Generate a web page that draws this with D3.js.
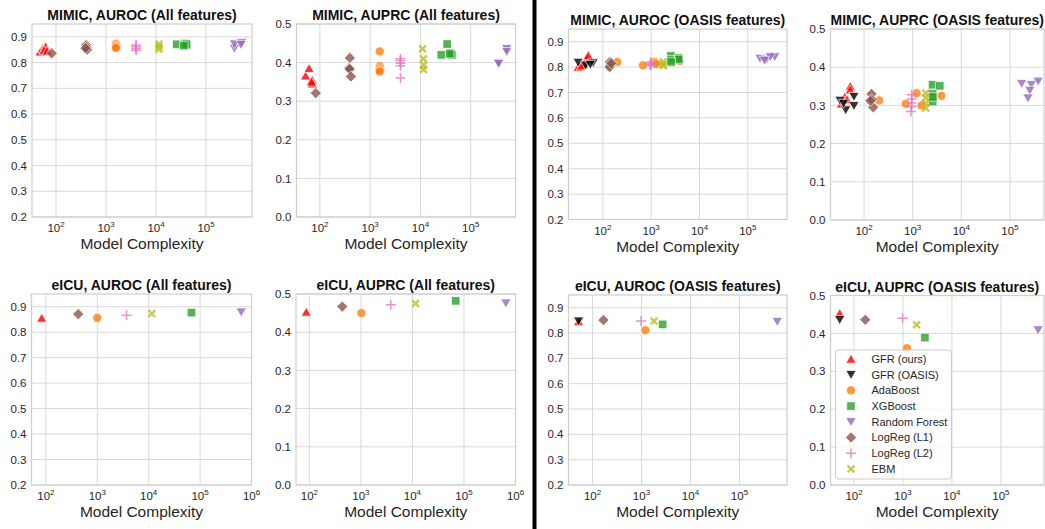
<!doctype html>
<html>
<head>
<meta charset="utf-8">
<script src="https://cdn.jsdelivr.net/npm/d3@7"></script>
<style>
  body { margin: 0; background: #fff; }
  svg { display: block; font-family: "Liberation Sans", Arial, sans-serif; }
  .grid line { stroke: #d9d9d9; stroke-width: 1; }
  .tick-label { fill: #262626; font-size: 11.5px; }
  .ptitle { font-size: 14px; font-weight: bold; fill: #111; }
  .xlabel { font-size: 15.5px; fill: #262626; }
</style>
</head>
<body>
<svg id="chart" width="1045" height="529"></svg>
<script>
// models, in legend / drawing order
var models = ["GFR (ours)", "GFR (OASIS)", "AdaBoost", "XGBoost", "Random Forest", "LogReg (L1)", "LogReg (L2)", "EBM"];
var modelColors = ["#ff0000", "#000000", "#ff7f0e", "#2ca02c", "#9467bd", "#8c564b", "#e377c2", "#bcbd22"];
var modelShapes = ["triUp", "triDown", "circle", "square", "triDown", "diamond", "plus", "cross"];

// [model complexity, score] per run
var mimicAurocAll = {
  "GFR (ours)": [[48,0.842],[55,0.855],[62,0.862],[58,0.848],[66,0.845]],
  "AdaBoost": [[1580,0.873],[1580,0.866],[1580,0.86],[1580,0.857]],
  "XGBoost": [[26000,0.871],[38000,0.874],[42000,0.868],[40000,0.872],[36000,0.866]],
  "Random Forest": [[370000,0.855],[370000,0.872],[520000,0.877],[500000,0.87]],
  "LogReg (L1)": [[82,0.836],[400,0.868],[410,0.86],[420,0.85],[390,0.856]],
  "LogReg (L2)": [[4000,0.868],[4000,0.862],[4000,0.855],[4000,0.848]],
  "EBM": [[11500,0.872],[11500,0.862],[11500,0.852]]
};
var mimicAuprcAll = {
  "GFR (ours)": [[52,0.366],[61,0.385],[70,0.355],[71,0.345],[68,0.350]],
  "AdaBoost": [[1550,0.429],[1550,0.391],[1550,0.385],[1550,0.380],[1550,0.377]],
  "XGBoost": [[34000,0.448],[26000,0.42],[40000,0.425],[42000,0.42],[38000,0.423]],
  "Random Forest": [[520000,0.436],[520000,0.428],[350000,0.40],[360000,0.397]],
  "LogReg (L1)": [[83,0.321],[395,0.412],[384,0.386],[390,0.383],[415,0.364]],
  "LogReg (L2)": [[4000,0.41],[4000,0.405],[4000,0.398],[4000,0.392],[4000,0.36]],
  "EBM": [[11000,0.436],[11500,0.41],[11500,0.393],[11500,0.382]]
};
var mimicAurocOasis = {
  "GFR (ours)": [[31,0.80],[40,0.81],[47,0.834],[50,0.846],[36,0.805]],
  "GFR (OASIS)": [[31,0.818],[44,0.807],[63,0.816],[55,0.81]],
  "AdaBoost": [[200,0.82],[680,0.807],[1200,0.82],[3900,0.824],[1250,0.812]],
  "XGBoost": [[2560,0.844],[2560,0.828],[3700,0.836],[3700,0.83],[2600,0.82]],
  "Random Forest": [[178000,0.834],[245000,0.83],[360000,0.84],[290000,0.84],[220000,0.826]],
  "LogReg (L1)": [[140,0.82],[145,0.807],[138,0.80],[150,0.815]],
  "LogReg (L2)": [[980,0.814],[1000,0.82],[1000,0.807],[950,0.81]],
  "EBM": [[1770,0.82],[1750,0.81],[1800,0.805]]
};
var mimicAuprcOasis = {
  "GFR (ours)": [[52,0.35],[52,0.341],[40,0.322],[34,0.304],[45,0.315]],
  "GFR (OASIS)": [[32,0.313],[42,0.288],[62,0.323],[62,0.299],[38,0.305]],
  "AdaBoost": [[204,0.313],[720,0.304],[1200,0.332],[1520,0.30],[3900,0.325]],
  "XGBoost": [[2570,0.354],[3600,0.351],[2570,0.33],[2570,0.31],[2600,0.322]],
  "Random Forest": [[174000,0.357],[275000,0.354],[380000,0.363],[256000,0.339],[235000,0.319]],
  "LogReg (L1)": [[142,0.33],[145,0.315],[154,0.295],[135,0.312]],
  "LogReg (L2)": [[950,0.328],[950,0.317],[950,0.306],[950,0.297],[920,0.284]],
  "EBM": [[1860,0.332],[1860,0.32],[1860,0.306],[1860,0.293]]
};
var eicuAurocAll = {
  "GFR (ours)": [[83,0.856]],
  "AdaBoost": [[1000,0.856]],
  "XGBoost": [[68000,0.877]],
  "Random Forest": [[630000,0.879]],
  "LogReg (L1)": [[425,0.871]],
  "LogReg (L2)": [[3700,0.867]],
  "EBM": [[11500,0.873]]
};
var eicuAuprcAll = {
  "GFR (ours)": [[87,0.453]],
  "AdaBoost": [[1020,0.45]],
  "XGBoost": [[69000,0.482]],
  "Random Forest": [[650000,0.476]],
  "LogReg (L1)": [[435,0.467]],
  "LogReg (L2)": [[3800,0.472]],
  "EBM": [[11500,0.475]]
};
var eicuAurocOasis = {
  "GFR (ours)": [[52,0.845]],
  "GFR (OASIS)": [[52,0.847]],
  "AdaBoost": [[1200,0.811]],
  "XGBoost": [[2700,0.834]],
  "Random Forest": [[590000,0.845]],
  "LogReg (L1)": [[167,0.851]],
  "LogReg (L2)": [[980,0.847]],
  "EBM": [[1800,0.847]]
};
var eicuAuprcOasis = {
  "GFR (ours)": [[51,0.453]],
  "GFR (OASIS)": [[51,0.436]],
  "AdaBoost": [[1200,0.361]],
  "XGBoost": [[2800,0.389]],
  "Random Forest": [[575000,0.409]],
  "LogReg (L1)": [[170,0.436]],
  "LogReg (L2)": [[980,0.44]],
  "EBM": [[1900,0.423]]
};

var aurocTicks = [0.2, 0.3, 0.4, 0.5, 0.6, 0.7, 0.8, 0.9];
var auprcTicks = [0.0, 0.1, 0.2, 0.3, 0.4, 0.5];

var panels = [
  {title: "MIMIC, AUROC (All features)", data: mimicAurocAll, yDomain: [0.2, 0.95], yTicks: aurocTicks, xExp: [1.52, 5.92]},
  {title: "MIMIC, AUPRC (All features)", data: mimicAuprcAll, yDomain: [0, 0.5], yTicks: auprcTicks, xExp: [1.535, 5.89]},
  {title: "MIMIC, AUROC (OASIS features)", data: mimicAurocOasis, yDomain: [0.2, 0.95], yTicks: aurocTicks, xExp: [1.29, 5.81]},
  {title: "MIMIC, AUPRC (OASIS features)", data: mimicAuprcOasis, yDomain: [0, 0.5], yTicks: auprcTicks, xExp: [1.31, 5.70]},
  {title: "eICU, AUROC (All features)", data: eicuAurocAll, yDomain: [0.2, 0.95], yTicks: aurocTicks, xExp: [1.72, 6.0]},
  {title: "eICU, AUPRC (All features)", data: eicuAuprcAll, yDomain: [0, 0.5], yTicks: auprcTicks, xExp: [1.74, 6.0]},
  {title: "eICU, AUROC (OASIS features)", data: eicuAurocOasis, yDomain: [0.2, 0.95], yTicks: aurocTicks, xExp: [1.51, 5.97]},
  {title: "eICU, AUPRC (OASIS features)", data: eicuAuprcOasis, yDomain: [0, 0.5], yTicks: auprcTicks, xExp: [1.52, 5.88], legend: true}
];

// plot boxes: left, right, top, bottom
var boxes = [
  [32, 252, 24, 217], [296.5, 515.5, 24, 217], [568.5, 787, 29, 219.5], [830.5, 1044, 29, 220],
  [31.5, 251.5, 294, 485], [296, 515.5, 294, 485], [568.5, 787, 295, 485], [830.5, 1044, 295.5, 485]
];

var svg = d3.select("#chart");

function markerPath(shape) {
  if (shape == "triUp") return "M0,-4.8L5.2,4.2L-5.2,4.2Z";
  if (shape == "triDown") return "M0,4.8L5.2,-4.2L-5.2,-4.2Z";
  if (shape == "circle") return d3.symbol(d3.symbolCircle, 66)();
  if (shape == "square") return "M-4.3,-4.3H4.3V4.3H-4.3Z";
  if (shape == "diamond") return "M0,-5.6L5.6,0L0,5.6L-5.6,0Z";
  if (shape == "plus") return "M-5,0H5M0,-5V5";
  if (shape == "cross") return "M-3.4,-3.4L3.4,3.4M-3.4,3.4L3.4,-3.4";
}

function drawMarker(g, i, x, y) {
  var shape = modelShapes[i], c = modelColors[i];
  var p = g.append("path")
      .attr("d", markerPath(shape))
      .attr("transform", "translate(" + x + "," + y + ")")
      .attr("opacity", 0.8);
  if (shape == "plus" || shape == "cross") {
    p.attr("fill", "none").attr("stroke", c).attr("stroke-width", shape == "plus" ? 1.5 : 2.4);
  } else {
    p.attr("fill", c).attr("stroke", "#fff").attr("stroke-width", 0.8);
  }
}

panels.forEach(function(pn, k) {
  var b = boxes[k];
  var x = d3.scaleLog().domain([Math.pow(10, pn.xExp[0]), Math.pow(10, pn.xExp[1])]).range([b[0], b[1]]);
  var y = d3.scaleLinear().domain(pn.yDomain).range([b[3], b[2]]);
  var g = svg.append("g");

  var decades = d3.range(Math.ceil(pn.xExp[0] - 1e-6), Math.floor(pn.xExp[1] + 1e-6) + 1);

  var grid = g.append("g").attr("class", "grid");
  grid.selectAll(".gx").data(decades).enter().append("line")
      .attr("x1", function(d) { return x(Math.pow(10, d)); })
      .attr("x2", function(d) { return x(Math.pow(10, d)); })
      .attr("y1", b[2]).attr("y2", b[3]);
  grid.selectAll(".gy").data(pn.yTicks).enter().append("line")
      .attr("x1", b[0]).attr("x2", b[1])
      .attr("y1", function(d) { return y(d); })
      .attr("y2", function(d) { return y(d); });

  g.append("rect")
      .attr("x", b[0]).attr("y", b[2])
      .attr("width", b[1] - b[0]).attr("height", b[3] - b[2])
      .attr("fill", "none").attr("stroke", "#cfcfcf").attr("stroke-width", 1.25);

  // y tick labels
  g.selectAll(".yl").data(pn.yTicks).enter().append("text")
      .attr("class", "tick-label")
      .attr("x", b[0] - 5)
      .attr("y", function(d) { return y(d); })
      .attr("dy", "0.36em")
      .attr("text-anchor", "end")
      .text(function(d) { return d.toFixed(1); });

  // x tick labels 10^n
  var xl = g.selectAll(".xl").data(decades).enter().append("text")
      .attr("class", "tick-label")
      .attr("x", function(d) { return x(Math.pow(10, d)); })
      .attr("y", b[3] + 15)
      .attr("text-anchor", "middle");
  xl.append("tspan").text("10");
  xl.append("tspan").attr("dy", -5).attr("font-size", "8px").text(function(d) { return d; });

  g.append("text")
      .attr("class", "xlabel")
      .attr("x", (b[0] + b[1]) / 2)
      .attr("y", b[3] + 32)
      .attr("text-anchor", "middle")
      .text("Model Complexity");

  g.append("text")
      .attr("class", "ptitle")
      .attr("x", (b[0] + b[1]) / 2)
      .attr("y", b[2] - 4)
      .attr("text-anchor", "middle")
      .text(pn.title);

  var marks = g.append("g");
  models.forEach(function(m, i) {
    var pts = pn.data[m];
    if (!pts) return;
    pts.forEach(function(p) { drawMarker(marks, i, x(p[0]), y(p[1])); });
  });

  if (pn.legend) {
    var lg = g.append("g");
    lg.append("rect")
        .attr("x", 835.5).attr("y", 350).attr("width", 116).attr("height", 129)
        .attr("rx", 3)
        .attr("fill", "#fff").attr("fill-opacity", 0.8)
        .attr("stroke", "#cccccc").attr("stroke-width", 1);
    models.forEach(function(m, i) {
      var ly = 359 + i * 15.7;
      drawMarker(lg, i, 851, ly);
      lg.append("text")
          .attr("x", 871.5).attr("y", ly).attr("dy", "0.36em")
          .attr("font-size", "11px").attr("fill", "#262626")
          .text(m);
    });
  }
});

// separator between the "All features" and "OASIS features" halves
svg.append("rect").attr("x", 532.5).attr("y", 0).attr("width", 4).attr("height", 529).attr("fill", "#000");
</script>
</body>
</html>
